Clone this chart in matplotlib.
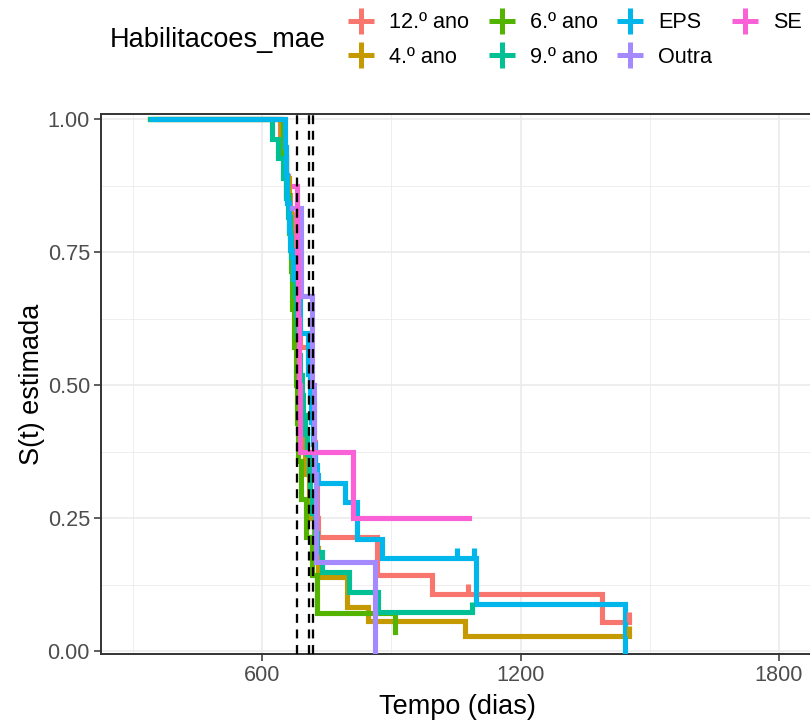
import numpy as np
import matplotlib
matplotlib.use('Agg')
import matplotlib.pyplot as plt
from matplotlib.lines import Line2D

plt.rcParams['font.family'] = ['Liberation Sans', 'DejaVu Sans']

# grupos e cores (paleta por defeito do ggplot)
grupos = ['12.º ano', '4.º ano', '6.º ano', '9.º ano', 'EPS', 'Outra', 'SE']
cores = ['#F8766D', '#C49A00', '#53B400', '#00C094', '#00B6EB', '#A58AFF', '#FB61D7']

# curvas de Kaplan-Meier (tempo em dias, S(t) apos cada tempo)
t_12 = [360, 642, 650, 656, 661, 665, 669, 672, 676, 679, 682, 685, 688, 707, 712,
        716, 720, 724, 727, 730, 867, 995, 1078, 1389, 1452]
s_12 = [1.0, .964, .929, .893, .857, .821, .786, .75, .714, .679, .643, .607, .571, .536, .5,
        .464, .393, .321, .25, .214, .143, .107, .107, .054, .054]
c_12 = [1078, 1452]

t_4 = [340, 645, 655, 662, 668, 673, 678, 683, 688, 693, 700, 710, 720, 730, 797, 846, 1071, 1452]
s_4 = [1.0, .944, .889, .833, .75, .667, .583, .5, .444, .417, .333, .25, .194, .139, .083, .056, .028, .028]
c_4 = [1452]

t_6 = [340, 648, 655, 662, 667, 670, 674, 678, 681, 684, 690, 702, 715, 728, 909]
s_6 = [1.0, .929, .857, .786, .714, .643, .571, .5, .429, .357, .286, .214, .143, .071, .036]
c_6 = []

t_9 = [340, 623, 636, 648, 655, 660, 664, 668, 672, 676, 679, 682, 685, 688, 692, 696, 700,
       704, 708, 711, 716, 722, 728, 739, 802, 869, 1087]
s_9 = [1.0, .963, .926, .889, .852, .815, .778, .741, .704, .667, .63, .593, .556, .519, .481, .444, .407,
       .37, .333, .296, .259, .222, .186, .148, .111, .074, .074]
c_9 = [1087]

t_eps = [345, 653, 656, 659, 662, 665, 672, 688, 707, 711, 714, 718, 722, 727, 731, 793, 820, 879,
         1053, 1092, 1097, 1443]
s_eps = [1.0, .947, .895, .842, .789, .754, .70, .598, .52, .47, .43, .39, .35, .33, .316, .28, .21, .175,
         .175, .175, .088, 0.0]
c_eps = [1053, 1092]

t_outra = [670, 690, 716, 720, 725, 862]
s_outra = [.833, .667, .5, .333, .167, 0.0]
c_outra = []

t_se = [675, 681, 683, 685, 688, 811, 1080]
s_se = [.875, .75, .625, .5, .375, .25, .25]
c_se = []

# linhas verticais a tracejado (medianas)
medianas = [682, 710, 718.5]

curvas = [(t_12, s_12, c_12), (t_4, s_4, c_4), (t_6, s_6, c_6), (t_9, s_9, c_9),
          (t_eps, s_eps, c_eps), (t_outra, s_outra, c_outra), (t_se, s_se, c_se)]

fig = plt.figure(figsize=(8.1, 7.22), dpi=100)
ax = fig.add_axes([101 / 810, 1 - 654 / 722, 712.5 / 810, 540 / 722])

marca = [(0, 0), (0, 1)]  # traco vertical acima da curva

for (t, s, cens), cor in zip(curvas, cores):
    ax.step(t, s, where='post', color=cor, lw=3.7, solid_joinstyle='miter', zorder=3)
    if cens:
        t_arr = np.array(t)
        idx = np.searchsorted(t_arr, cens, side='right') - 1
        ax.plot(cens, np.array(s)[idx], linestyle='none', marker=marca, markersize=14,
                markeredgewidth=3.7, color=cor, zorder=4)

for m in medianas:
    ax.axvline(m, color='black', lw=1.65, dashes=(3.9, 2.9), zorder=5)

ax.set_xlim(226.3, 1880)
ax.set_ylim(-0.0056, 1.0094)
ax.set_xticks([600, 1200, 1800])
ax.set_xticks([300, 900, 1500], minor=True)
ax.set_yticks([0, 0.25, 0.5, 0.75, 1.0])
ax.set_yticklabels(['0.00', '0.25', '0.50', '0.75', '1.00'])
ax.set_yticks([0.125, 0.375, 0.625, 0.875], minor=True)
ax.grid(which='major', color='#EBEBEB', lw=1.2, zorder=0)
ax.grid(which='minor', color='#EBEBEB', lw=0.6, zorder=0)
ax.set_axisbelow(True)
ax.tick_params(which='major', length=5, width=1.1, color='#333333',
               labelsize=15.6, labelcolor='#4D4D4D', pad=3)
ax.tick_params(which='minor', length=0)
for sp in ax.spines.values():
    sp.set_color('#333333')
    sp.set_linewidth(1.4)

ax.set_xlabel('Tempo (dias)', fontsize=19.5, labelpad=6)
ax.set_ylabel('S(t) estimada', fontsize=19.5, labelpad=2)

# legenda no topo, titulo a esquerda
fig.text(110 / 810, 1 - 40 / 722, 'Habilitacoes_mae', fontsize=19.5, ha='left', va='center')
handles = [Line2D([], [], color=c, marker='+', markersize=19, markeredgewidth=3.6, linestyle='none')
           for c in cores]
fig.legend(handles, grupos, ncol=4, loc='center left', bbox_to_anchor=(348 / 810, 1 - 40 / 722),
           frameon=False, fontsize=15.6, handlelength=1.2, handletextpad=0.7,
           columnspacing=0.9, labelspacing=0.62, borderpad=0, borderaxespad=0)

fig.savefig('out.png', dpi=100)
